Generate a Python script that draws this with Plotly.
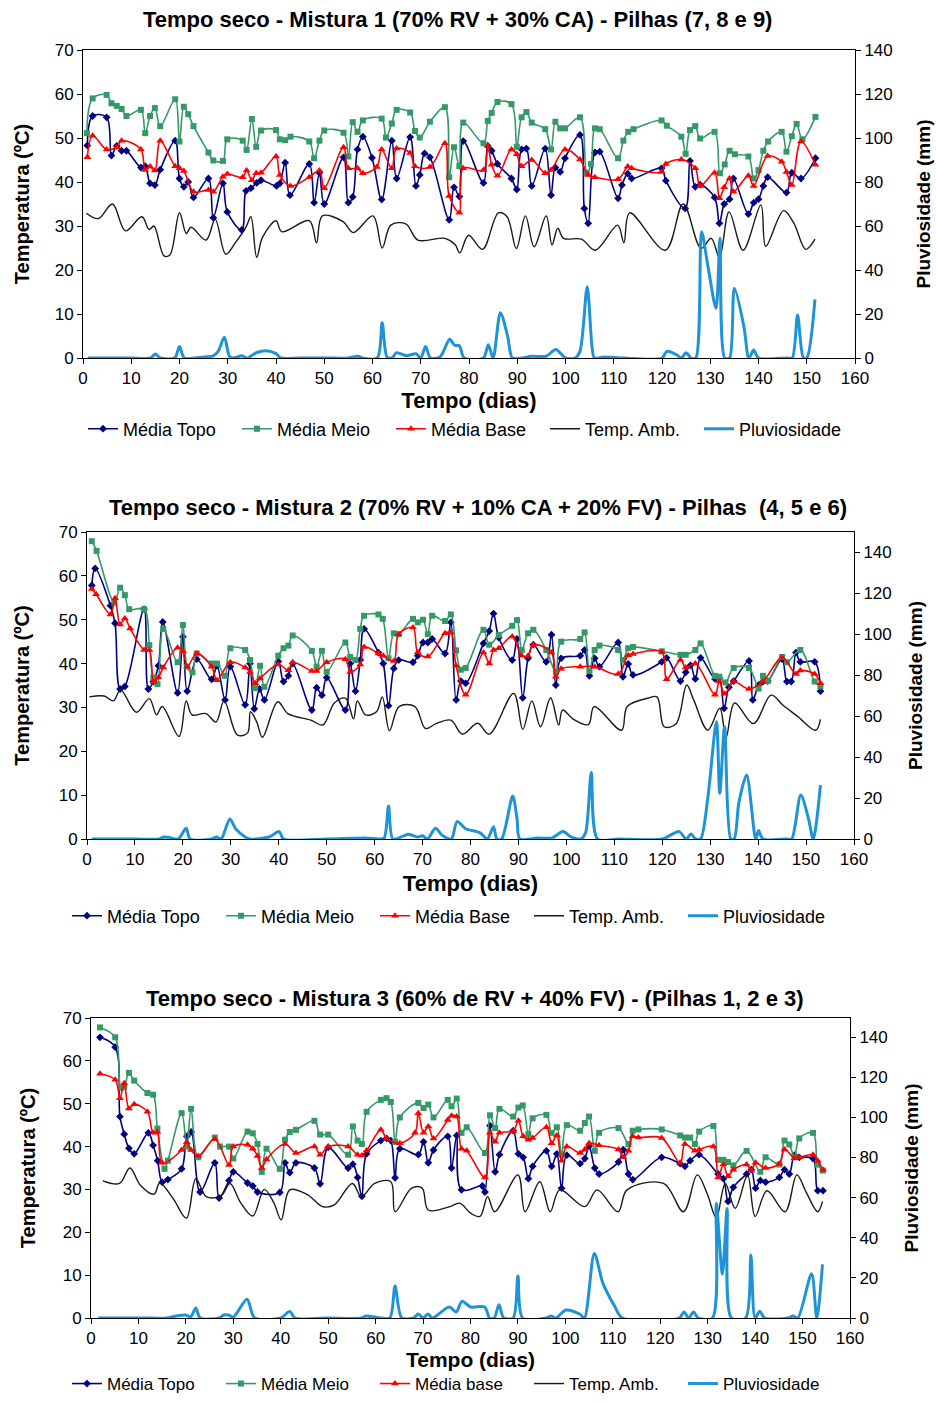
import plotly.graph_objects as go

W, H = 936, 1402

# ======================= DATA (day, value) =======================
# ---------- Panel 1: Mistura 1 ----------
p1_topo = [(0.9,48.3),(2.0,55.0),(4.9,54.7),(5.9,46.0),(7.0,48.2),(8.0,47.1),(9.0,47.1),(12.0,43.3),(12.9,43.6),(13.9,39.7),(14.9,39.3),(16.0,42.8),(19.1,49.4),(20.0,40.8),(20.9,38.9),(21.8,40.0),(22.9,36.5),(26.0,40.8),(27.0,31.9),(29.0,39.7),(29.9,33.2),(32.9,29.1),(33.8,38.0),(34.8,38.6),(36.0,39.8),(36.9,40.4),(40.1,39.1),(40.8,39.7),(41.9,44.4),(42.9,37.0),(46.9,44.1),(47.9,35.3),(49.0,42.1),(50.0,35.0),(54.0,45.6),(55.0,35.3),(55.9,36.6),(56.9,47.4),(58.0,50.3),(59.9,45.5),(61.9,36.0),(64.0,49.4),(65.0,40.8),(67.8,50.2),(69.0,39.1),(69.8,41.6),(70.8,46.5),(71.9,45.6),(75.9,31.4),(76.9,38.8),(78.0,36.7),(78.8,49.3),(83.0,39.8),(83.9,48.2),(84.7,47.1),(85.9,44.1),(88.8,40.8),(89.9,38.3),(90.9,47.4),(91.9,47.6),(93.0,39.1),(95.8,47.6),(97.0,37.0),(97.9,43.3),(98.9,42.3),(99.9,45.4),(103.0,50.7),(103.9,34.0),(104.7,30.6),(106.1,46.7),(107.1,46.9),(110.9,36.3),(111.7,39.3),(112.9,41.9),(113.7,40.8),(119.9,43.1),(120.8,40.3),(124.8,34.0),(125.8,44.8),(126.9,38.9),(127.9,39.4),(130.9,36.5),(131.9,30.6),(132.9,35.0),(134.0,36.1),(134.8,40.8),(137.9,32.7),(139.0,35.3),(140.0,36.1),(141.0,39.1),(141.9,41.1),(145.8,37.6),(146.9,42.1),(148.8,40.8),(151.8,45.4)]
p1_meio = [(0.8,51.1),(2.0,59.0),(4.9,59.8),(5.9,57.9),(7.0,57.3),(8.0,56.6),(9.0,55.0),(12.0,56.4),(12.9,51.1),(13.9,55.0),(14.9,56.8),(16.0,52.7),(19.1,58.8),(20.0,49.2),(20.9,57.1),(21.8,55.4),(22.9,52.7),(26.0,46.7),(27.0,44.9),(29.0,44.8),(29.9,49.7),(33.1,49.4),(33.9,47.3),(35.0,54.3),(35.9,48.0),(36.9,51.7),(40.0,51.8),(40.8,49.7),(41.9,49.5),(43.0,50.3),(46.9,49.2),(47.9,45.4),(49.0,49.4),(50.0,51.7),(54.0,51.2),(55.0,45.8),(55.9,53.6),(56.9,51.4),(58.0,54.0),(61.9,54.4),(62.8,50.1),(64.0,53.3),(65.0,56.4),(67.8,55.8),(68.8,51.6),(69.8,50.1),(71.9,53.7),(75.0,57.0),(75.9,41.1),(76.9,47.9),(78.0,43.6),(78.8,53.5),(83.0,48.8),(83.9,53.9),(84.7,55.7),(85.9,58.2),(88.8,57.7),(89.9,48.0),(90.9,54.7),(91.9,55.9),(93.0,53.5),(95.8,52.0),(97.0,47.4),(97.9,53.7),(98.9,52.2),(99.9,52.2),(103.0,54.7),(104.4,42.1),(105.3,44.1),(106.1,52.2),(107.1,52.0),(110.9,45.4),(112.0,49.4),(113.0,51.4),(114.1,52.0),(119.9,54.0),(121.0,52.8),(124.0,50.3),(124.9,46.4),(125.8,51.8),(126.9,52.7),(127.9,49.9),(130.9,51.4),(132.0,42.0),(133.0,44.0),(134.0,47.1),(135.1,46.3),(137.9,45.8),(139.0,40.8),(140.0,42.7),(141.0,47.1),(142.0,49.2),(144.8,51.4),(145.8,46.9),(146.9,50.4),(147.9,53.2),(149.1,49.7),(151.8,54.8)]
p1_base = [(0.9,45.6),(2.0,50.5),(4.9,47.4),(7.0,47.9),(8.0,49.4),(12.0,47.4),(12.9,42.7),(13.9,43.5),(14.9,42.6),(16.0,49.4),(19.1,43.6),(20.0,43.1),(20.9,42.5),(22.9,37.8),(26.0,38.2),(27.0,37.8),(29.0,41.2),(29.9,41.8),(33.1,41.1),(33.9,42.6),(35.0,40.4),(35.9,42.0),(36.9,42.1),(40.0,45.8),(40.8,41.6),(43.0,39.1),(46.9,41.1),(49.0,42.6),(50.0,38.6),(54.0,47.9),(55.0,43.1),(56.9,43.1),(58.0,42.0),(60.9,43.4),(61.9,47.4),(64.0,43.1),(65.0,47.6),(67.8,46.6),(68.8,43.6),(71.9,43.4),(75.0,48.8),(75.9,36.8),(78.0,33.0),(78.8,43.1),(83.0,42.7),(83.9,48.2),(84.7,43.9),(85.9,41.4),(88.8,47.4),(89.9,46.3),(90.9,43.6),(93.0,45.0),(95.8,42.0),(97.0,42.7),(99.9,47.4),(103.0,45.1),(104.7,41.6),(106.1,41.1),(110.9,40.6),(112.9,43.5),(113.7,43.1),(119.9,42.3),(120.8,44.1),(124.0,45.1),(126.9,43.1),(127.9,39.1),(130.9,42.1),(131.9,36.3),(132.9,38.8),(134.0,40.8),(134.8,37.8),(137.9,41.4),(139.0,39.1),(141.9,45.9),(144.8,44.6),(145.8,42.3),(146.9,39.3),(148.8,49.2),(151.8,43.9)]
p1_amb = [(0.7,32.9),(3.2,31.7),(6.1,35.0),(8.8,28.9),(12.2,32.1),(13.7,29.2),(14.7,30.0),(16.8,23.2),(18.0,23.4),(20.0,33.0),(21.4,28.3),(22.4,29.7),(25.5,26.8),(27.4,31.5),(29.6,23.6),(31.7,26.4),(33.8,29.8),(34.8,32.1),(36.0,22.9),(37.2,27.4),(40.0,31.2),(41.2,28.7),(46.9,31.2),(48.4,26.2),(49.6,32.3),(53.9,31.0),(56.0,28.5),(60.1,32.3),(62.0,25.0),(63.8,30.2),(66.9,30.5),(69.4,26.8),(75.0,27.2),(77.1,25.8),(78.1,23.9),(79.9,27.9),(82.8,24.7),(86.1,33.0),(87.9,32.1),(89.8,24.9),(91.7,32.3),(93.5,25.3),(96.0,32.3),(97.2,25.7),(98.4,29.5),(99.6,27.2),(103.3,27.0),(106.2,24.5),(110.8,30.2),(112.1,26.2),(113.3,33.0),(120.7,24.5),(124.4,35.0),(128.1,24.9),(130.2,27.2),(131.9,22.9),(133.9,33.2),(136.8,24.5),(140.5,34.8),(141.5,25.4),(145.2,33.5),(147.3,30.7),(149.8,24.7),(151.7,27.0)]
p1_pluv = [(1,0),(5,0),(10,0),(14,0),(15,1.8),(16,0),(19,0),(20,5.2),(21,0),(25,0.5),(27,1),(28,3),(29.3,9.4),(30.3,1),(31,0),(33,1),(34,0),(36,2.5),(38,3.3),(40,2),(41,0),(45,0),(50,0),(55,0),(57,0.8),(58,0),(61,0),(62,16),(63,0.5),(64,0),(65,2.4),(67,1),(69,1.9),(70,0),(71,5.2),(72,0),(74,0.5),(76,8.5),(77,5.8),(78,5.6),(79,0),(83,0),(84,6),(85,0),(86.5,20.6),(88,10),(89,0),(91,0),(93,0.8),(96,0.8),(98,3.9),(100,0),(102,0),(103,3),(104.5,32.4),(105.5,5),(106,0),(108,0.5),(112,0),(120,0),(121,3),(123,1.5),(124,0),(125,2.4),(126,0),(127,0),(128.2,57.4),(129.5,42),(131.2,22.6),(132,54.4),(133,0),(134,0),(135,31.7),(137,14),(138,0),(139,3.6),(140,0),(146,0),(147,0),(148.1,19.5),(149.3,0),(150,0),(151.7,26.7)]

# ---------- Panel 2: Mistura 2 ----------
p2_topo = [(1.0,57.8),(1.7,61.7),(4.9,53.2),(5.85,49.2),(6.9,34.2),(7.9,34.8),(11.9,52.4),(12.8,34.2),(13.85,35.9),(14.9,39.5),(15.8,49.5),(18.9,33.3),(20.0,46.1),(20.9,33.7),(22.9,41.0),(26.0,36.4),(27.1,39.5),(28.8,31.7),(29.9,39.3),(33.0,30.6),(34.0,40.0),(34.9,29.7),(36.0,34.2),(37.0,31.7),(39.9,40.5),(41.0,35.9),(42.0,37.2),(42.9,40.0),(46.9,29.4),(47.9,34.5),(49.0,32.8),(50.0,36.8),(53.9,29.4),(54.9,40.0),(56.0,33.7),(57.0,40.8),(57.8,47.9),(60.8,42.5),(61.8,40.0),(62.9,30.4),(64.0,38.9),(65.0,40.8),(68.0,40.3),(69.0,41.8),(70.1,44.8),(71.1,44.8),(72.0,45.6),(74.7,42.3),(75.9,49.4),(77.0,31.7),(78.0,36.0),(79.0,35.5),(82.7,44.6),(83.9,47.4),(84.8,51.4),(85.9,45.9),(88.7,40.8),(89.7,45.6),(90.9,32.2),(92.0,41.2),(93.1,44.3),(95.8,40.4),(96.9,46.6),(97.8,35.1),(98.9,41.2),(102.9,41.8),(103.8,43.1),(104.8,37.2),(105.9,41.2),(106.9,39.3),(110.8,44.8),(111.8,37.0),(112.9,39.9),(113.9,37.4),(119.9,40.4),(120.9,41.3),(123.8,36.0),(124.9,38.0),(125.9,39.6),(126.9,36.5),(128.0,41.3),(131.0,36.5),(131.9,36.7),(132.9,29.8),(133.9,34.6),(134.9,36.0),(138.1,40.6),(138.9,31.7),(140.1,35.1),(141.0,35.9),(142.0,36.0),(145.0,41.0),(146.0,35.9),(146.9,35.9),(147.9,42.5),(148.8,40.4),(151.8,40.4),(153.0,33.7)]
p2_meio = [(1.0,67.9),(2.0,65.7),(5.7,53.9),(6.9,57.3),(7.9,55.6),(8.8,52.4),(11.9,52.4),(13.0,44.2),(13.85,36.8),(14.7,35.3),(15.9,47.9),(18.9,40.3),(20.0,48.8),(20.9,39.3),(22.0,38.0),(22.9,42.3),(26.0,40.0),(27.1,40.0),(28.8,37.2),(29.9,43.5),(33.0,43.1),(34.0,40.8),(35.1,34.4),(36.1,39.5),(37.0,34.7),(39.9,41.8),(41.0,43.5),(42.0,44.1),(42.9,46.4),(46.9,42.9),(47.9,39.3),(49.0,42.9),(50.0,38.1),(53.9,44.8),(54.9,41.5),(56.0,40.8),(57.0,47.9),(57.8,50.9),(60.8,51.2),(61.7,50.2),(62.9,41.2),(64.0,46.9),(65.0,46.7),(68.0,50.2),(69.0,49.4),(70.1,50.0),(71.1,46.7),(72.0,50.9),(74.7,49.7),(75.9,51.2),(77.0,43.0),(78.0,38.6),(79.0,39.0),(82.7,47.7),(83.9,44.3),(85.9,46.5),(88.7,48.6),(89.7,49.9),(90.7,43.1),(92.0,46.9),(93.1,47.7),(95.8,43.1),(97.8,38.1),(98.9,45.0),(102.9,45.6),(103.8,47.1),(104.8,38.3),(105.9,43.1),(106.9,44.1),(110.8,43.1),(111.8,40.8),(112.9,43.5),(113.9,43.8),(119.9,42.8),(123.8,42.0),(124.9,42.0),(126.9,43.1),(128.0,44.6),(131.0,37.2),(131.9,37.0),(133.2,35.7),(134.9,39.0),(138.1,39.0),(140.1,34.3),(141.0,37.2),(142.0,36.0),(145.0,41.5),(146.0,40.3),(148.8,43.1),(151.8,35.9),(153.0,34.8)]
p2_base = [(1.0,57.0),(1.9,55.8),(4.9,51.2),(5.85,54.9),(6.9,48.9),(7.9,50.3),(9.0,48.0),(11.9,43.1),(13.0,43.1),(13.9,35.8),(14.9,36.8),(15.9,39.1),(18.9,43.6),(20.0,42.8),(20.9,39.3),(22.9,42.3),(26.0,39.3),(27.1,36.2),(29.9,40.3),(33.0,39.1),(34.0,38.1),(35.1,35.5),(36.1,36.6),(39.9,39.8),(42.0,38.5),(42.9,40.3),(46.9,38.3),(47.9,38.3),(50.0,40.3),(53.9,41.0),(54.9,38.1),(57.0,39.8),(57.8,43.8),(60.8,42.3),(61.8,41.8),(64.0,40.6),(65.0,46.7),(68.0,48.2),(69.0,42.6),(71.1,41.6),(74.7,46.9),(75.9,47.1),(77.0,39.5),(79.0,32.9),(82.7,42.5),(83.9,40.0),(84.8,43.1),(85.9,43.5),(88.7,46.2),(90.7,41.8),(92.0,41.8),(93.1,44.3),(96.9,42.5),(97.8,37.0),(98.9,38.8),(102.9,39.3),(105.9,39.3),(110.8,37.6),(112.9,41.9),(113.9,42.2),(119.9,42.6),(120.9,36.4),(123.8,40.8),(124.9,39.1),(126.9,40.0),(131.0,32.9),(131.9,35.9),(133.0,33.1),(134.9,35.9),(138.1,34.2),(141.0,35.9),(145.0,41.3),(147.9,37.6),(148.8,38.4),(151.8,37.6),(153.0,35.5)]
p2_amb = [(0.5,32.4),(3.6,32.6),(5.5,31.5),(7.0,34.0),(10.3,28.9),(13.0,32.0),(14.5,28.3),(15.7,30.2),(19.2,23.4),(20.7,31.5),(21.9,28.3),(24.8,28.6),(26.9,26.7),(28.6,31.5),(31.4,23.7),(33.5,24.2),(34.1,29.0),(35.4,26.7),(36.6,23.2),(39.8,31.3),(41.9,28.6),(46.7,27.1),(49.2,26.0),(51.6,31.0),(53.9,32.1),(55.6,27.4),(56.4,31.5),(58.1,28.3),(60.4,29.0),(61.6,32.4),(63.1,24.7),(65.1,30.2),(68.4,30.2),(70.6,25.2),(72.8,26.3),(75.9,27.1),(78.3,23.9),(81.5,26.4),(83.9,23.9),(89.0,33.2),(90.9,25.0),(92.8,31.5),(94.6,25.6),(96.7,32.2),(98.4,26.0),(99.2,29.4),(101.5,27.3),(104.6,26.1),(105.8,30.2),(111.5,24.8),(112.7,30.2),(117.0,32.1),(118.9,32.4),(120.4,25.6),(122.9,26.3),(125.1,35.1),(126.6,31.6),(129.5,24.8),(132.0,29.8),(133.3,23.1),(135.1,31.0),(139.0,26.3),(142.7,32.8),(145.2,30.5),(148.3,27.9),(152.0,24.8),(153.0,27.3)]
p2_pluv = [(1,0),(10,0),(15,0),(16,1),(17,0.8),(19,0),(20.7,5.2),(21.5,0),(26,0),(27,1),(28,0),(29.8,9.8),(31,5),(33,1),(34,0),(38,1),(40.1,3.6),(41,0),(50,0),(58,0.5),(61,0),(62,0.5),(62.9,16.1),(63.8,0),(66,1.5),(67,2.3),(69,1),(70,1.6),(71,0),(72.7,5.2),(74,2),(76,0),(77.2,8.5),(79,5),(82,3),(83.5,0),(84.8,6.0),(85.5,0),(86.5,0),(88.8,21),(89.7,10),(90.3,0),(94,0.5),(97,0.5),(99.3,3.6),(101,1),(103,0),(104,3),(105.2,32.4),(106.5,0),(111,0),(120,0),(123.5,3.6),(125,0),(126,2.4),(127,0),(128,0),(129.5,20),(131.3,57.2),(132,22.3),(133,54.8),(134.3,0),(135,0),(136,18),(137.6,31.2),(139.5,0),(140.1,4.1),(141,0),(146,0),(147,0),(148.9,21.5),(150.5,10),(151.5,0),(153,26.3)]

# ---------- Panel 3: Mistura 3 ----------
p3_topo = [(1.9,65.5),(5.1,63.2),(6.1,47.0),(7.0,42.9),(8.0,39.6),(9.1,38.3),(12.1,43.2),(13.1,40.3),(14.05,36.7),(15.0,31.7),(16.2,32.3),(19.1,34.8),(20.2,42.4),(21.1,43.4),(23.0,29.4),(26.1,36.2),(27.0,28.0),(29.1,32.1),(30.0,34.1),(33.0,31.5),(34.1,30.8),(35.1,29.4),(39.8,29.3),(40.9,36.2),(41.9,33.9),(43.2,36.2),(47.1,35.0),(48.3,31.3),(50.0,39.8),(54.2,35.0),(55.2,35.9),(56.2,32.8),(57.1,28.4),(58.1,38.3),(61.1,41.4),(62.3,41.9),(63.2,41.4),(64.1,32.7),(65.1,39.5),(69.0,38.1),(70.1,41.1),(71.1,36.2),(72.2,39.2),(75.2,42.4),(76.0,35.0),(77.1,42.6),(78.1,29.9),(82.5,30.8),(83.05,29.4),(84.1,44.9),(85.2,34.1),(86.1,38.1),(89.0,43.7),(90.1,38.3),(91.1,37.5),(92.2,32.5),(93.1,35.4),(96.0,39.0),(97.1,35.4),(98.2,38.3),(99.2,30.3),(100.3,38.0),(103.1,36.0),(104.1,37.2),(105.0,40.1),(106.2,35.0),(107.1,33.6),(111.2,36.4),(112.2,39.3),(113.3,33.6),(114.2,32.3),(120.3,37.5),(124.2,36.0),(125.2,35.4),(126.3,36.7),(128.2,38.1),(132.2,33.6),(133.3,32.5),(134.3,27.2),(135.4,30.5),(138.2,33.6),(139.2,34.6),(140.1,30.3),(141.1,32.1),(142.2,31.7),(145.1,32.8),(146.2,34.6),(147.2,33.6),(148.3,38.0),(149.3,37.5),(152.2,37.2),(153.2,29.7),(154.3,29.7)]
p3_meio = [(1.9,67.8),(5.1,65.5),(6.3,53.7),(7.0,54.0),(8.0,57.2),(9.1,55.4),(11.9,52.5),(13.1,52.1),(14.0,44.2),(15.5,34.8),(16.2,36.7),(19.1,47.8),(20.2,40.0),(21.1,48.8),(22.6,37.5),(26.1,42.1),(27.2,40.0),(29.1,40.0),(30.0,37.2),(33.0,43.5),(34.1,43.1),(35.1,40.6),(36.0,34.1),(37.0,39.5),(39.8,34.8),(40.9,41.6),(41.9,43.4),(43.2,43.9),(47.1,46.0),(48.3,42.8),(50.0,42.8),(54.2,38.1),(55.2,44.7),(56.2,41.4),(57.1,40.6),(58.1,48.1),(61.1,50.9),(62.3,51.3),(63.2,50.4),(64.1,41.1),(65.1,46.8),(69.0,50.2),(70.1,49.0),(71.1,49.8),(72.2,46.8),(75.2,50.9),(76.0,49.4),(77.1,51.2),(78.1,43.2),(79.2,44.5),(83.05,38.5),(84.1,47.3),(85.2,44.3),(86.1,48.8),(89.0,47.0),(90.1,49.1),(91.0,49.6),(92.2,42.9),(93.1,46.6),(96.0,47.4),(97.1,43.2),(98.2,44.5),(99.2,38.1),(100.3,45.0),(103.1,43.7),(104.1,45.5),(105.0,47.0),(106.2,39.0),(107.1,43.2),(111.2,44.3),(113.3,40.6),(114.2,43.7),(115.4,44.0),(120.3,44.0),(124.2,42.6),(125.2,42.1),(126.3,42.1),(127.3,40.6),(128.2,43.5),(131.2,44.8),(132.2,36.9),(133.3,36.9),(134.3,36.4),(135.4,35.6),(138.2,39.0),(141.1,34.1),(142.2,37.5),(145.1,35.8),(146.2,41.4),(147.2,40.5),(148.3,37.5),(149.3,41.9),(152.2,43.2),(153.2,35.8),(154.3,34.4)]
p3_base = [(1.9,57.0),(5.1,55.6),(6.1,51.3),(7.0,54.8),(8.0,48.9),(9.1,49.9),(11.9,48.1),(13.1,43.2),(14.0,43.4),(15.0,36.2),(19.1,39.2),(20.2,41.0),(21.1,39.2),(22.6,37.8),(26.1,41.7),(29.1,35.7),(30.0,40.0),(33.0,40.4),(34.1,39.5),(35.1,37.8),(36.0,35.0),(37.0,37.0),(40.9,40.6),(43.2,38.5),(47.1,40.0),(48.3,38.1),(50.0,40.0),(54.2,40.0),(56.2,38.1),(57.1,37.9),(58.1,39.1),(61.1,43.9),(62.3,41.9),(65.1,40.8),(68.3,43.2),(69.0,47.8),(70.1,43.2),(71.1,44.7),(72.2,41.9),(75.2,46.2),(76.0,47.2),(77.1,47.0),(78.1,39.5),(79.2,39.0),(83.05,32.8),(84.1,43.2),(85.2,41.1),(86.1,43.2),(89.0,43.6),(90.1,46.0),(91.1,42.4),(92.2,41.6),(93.1,42.0),(96.0,44.5),(97.1,40.8),(98.2,42.6),(99.2,36.7),(100.3,40.0),(103.1,38.5),(104.1,39.3),(105.0,40.8),(107.1,40.3),(111.2,39.3),(112.2,37.5),(113.3,39.0),(114.2,42.4),(115.4,42.1),(120.3,42.0),(124.2,36.2),(125.2,40.6),(127.3,39.0),(128.2,39.3),(131.2,40.0),(132.2,32.8),(133.3,35.8),(134.3,33.1),(135.4,34.6),(138.2,35.8),(139.2,34.4),(140.1,36.2),(142.2,35.0),(145.1,36.0),(146.2,39.3),(148.3,37.3),(149.3,37.5),(152.2,38.1),(153.2,36.7),(154.3,34.6)]
p3_amb = [(2.5,32.0),(6.0,31.4),(8.2,35.0),(10.4,31.0),(13.3,28.9),(14.5,31.5),(17.3,27.9),(20.1,23.3),(22.1,32.5),(24.3,28.3),(27.4,28.5),(29.3,31.4),(31.5,27.0),(34.1,23.8),(36.5,30.0),(38.5,27.0),(40.1,22.9),(41.9,29.9),(45.6,28.8),(48.8,26.0),(51.3,26.4),(55.1,31.4),(57.0,28.3),(59.8,31.4),(63.2,31.8),(64.1,24.8),(67.6,30.3),(69.8,30.3),(71.1,25.2),(75.7,26.0),(77.7,26.8),(80.1,24.4),(82.0,23.7),(83.6,28.3),(85.1,24.8),(90.0,33.4),(91.5,24.8),(94.6,31.8),(96.8,24.8),(98.8,29.9),(104.1,26.0),(106.7,29.9),(111.1,24.8),(113.0,29.9),(120.7,31.4),(124.9,24.8),(127.8,33.4),(129.9,29.0),(131.8,23.4),(133.7,31.4),(135.8,25.6),(138.4,33.3),(140.0,23.7),(142.5,29.7),(146.3,24.8),(148.8,33.4),(150.7,29.5),(153.2,24.8),(154.2,27.2)]
p3_pluv = [(1.5,0),(10,0),(16,0),(18,1),(20,1.5),(21,0.5),(22.1,5.0),(23,0),(27,0),(28,1.5),(29,1.5),(30,0.5),(32.9,9.3),(34.5,0),(40,0),(41.9,3.3),(43,0),(50,0),(57,0),(58,1),(61,0),(63,0),(64.1,15.9),(65.5,0),(68,0),(69,2),(70,0),(71,2),(72,0),(75.5,5.5),(77,3),(78.2,8.3),(80,5.5),(83,5.5),(84,0),(85,0),(86,6.6),(87,0),(89,0),(90,20.9),(91,0),(96,0),(97,1),(98,0),(100.1,4.0),(103,2),(104,0),(106.1,32.2),(107.9,17.4),(110.4,5.8),(112,0),(124,0),(125,3),(126,0),(127,3),(128,0),(131,0),(131.8,57.1),(133.1,21.9),(134.1,54.6),(135,0),(138,0),(139.1,31.4),(140,0),(141,3.4),(142,0),(147,0),(148,1),(149,0),(151.9,22.1),(153,0),(154.2,26.7)]

titles = [
    "Tempo seco - Mistura 1 (70% RV + 30% CA) - Pilhas (7, 8 e 9)",
    "Tempo seco - Mistura 2 (70% RV + 10% CA + 20% FV) - Pilhas  (4, 5 e 6)",
    "Tempo seco - Mistura 3 (60% de RV + 40% FV) - (Pilhas 1, 2 e 3)",
]
base_names = ["Média Base", "Média Base", "Média base"]
x_ticks = list(range(0, 161, 10))
left_ticks = list(range(0, 71, 10))
right_ticks = list(range(0, 141, 20))

# ======================= STYLE / LAYOUT =======================
FONT = "Liberation Sans, Arial, sans-serif"
C_TOPO, C_MEIO, C_BASE, C_AMB, C_PLUV = "#000080", "#339966", "#FF0000", "#1a1a1a", "#1E93D6"

# panel pixel boxes: (x_left, x_right, y_top, y_bottom, right_axis_max)
panels = [
    (83, 855, 50, 358, 140.0),
    (87, 854, 532, 839, 149.8),
    (91, 850, 1018, 1318, 149.5),
]
title_pos = [(457, 20), (478, 507), (475, 998)]
# legend: left edge x, y (pixels), y anchor, font size
legend_pos = [(83, 429, "middle", 18), (67, 916, "middle", 18), (67, 1402, "bottom", 17)]
xtitle_standoff = [0, 7, 4]
xtitle_size = [22, 22, 21]
ytitle_standoff = [19, 23, 21]
y2title_standoff = [24, 17, 17]

data = [
    (p1_topo, p1_meio, p1_base, p1_amb, p1_pluv),
    (p2_topo, p2_meio, p2_base, p2_amb, p2_pluv),
    (p3_topo, p3_meio, p3_base, p3_amb, p3_pluv),
]

def xs(pairs):
    return [p[0] for p in pairs]

def ys(pairs):
    return [p[1] for p in pairs]

fig = go.Figure()
layout = dict(
    width=W, height=H, margin=dict(l=0, r=0, t=0, b=0),
    paper_bgcolor="white", plot_bgcolor="white",
    font=dict(family=FONT, color="black", size=17),
    showlegend=True, template="none", annotations=[],
)

for i, ((xl, xr, yt, yb, rmax), (topo, meio, base, amb, pluv)) in enumerate(zip(panels, data)):
    n = i + 1
    xa = "x" if n == 1 else f"x{n}"
    ya = f"y{2*n-1}" if n > 1 else "y"
    ya2 = f"y{2*n}"
    leg = "legend" if n == 1 else f"legend{n}"

    common = dict(mode="lines+markers", line_shape="spline", xaxis=xa, yaxis=ya, legend=leg)
    fig.add_trace(go.Scatter(x=xs(topo), y=ys(topo), name="Média Topo",
                             line=dict(color=C_TOPO, width=1.6, smoothing=1),
                             marker=dict(symbol="diamond", size=6, color=C_TOPO), **common))
    fig.add_trace(go.Scatter(x=xs(meio), y=ys(meio), name="Média Meio",
                             line=dict(color=C_MEIO, width=1.6, smoothing=1),
                             marker=dict(symbol="square", size=6, color=C_MEIO), **common))
    fig.add_trace(go.Scatter(x=xs(base), y=ys(base), name=base_names[i],
                             line=dict(color=C_BASE, width=1.6, smoothing=1),
                             marker=dict(symbol="triangle-up", size=7, color=C_BASE), **common))
    fig.add_trace(go.Scatter(x=xs(amb), y=ys(amb), name="Temp. Amb.", mode="lines",
                             line=dict(color=C_AMB, width=1.4, shape="spline", smoothing=1),
                             xaxis=xa, yaxis=ya, legend=leg))
    fig.add_trace(go.Scatter(x=xs(pluv), y=ys(pluv), name="Pluviosidade", mode="lines",
                             line=dict(color=C_PLUV, width=3, shape="spline", smoothing=0.8),
                             xaxis=xa, yaxis=ya2, legend=leg))

    xdom = [xl / W, xr / W]
    ydom = [1 - yb / H, 1 - yt / H]
    xkey = "xaxis" if n == 1 else f"xaxis{n}"
    ykey = "yaxis" if n == 1 else f"yaxis{2*n-1}"
    y2key = f"yaxis{2*n}"

    layout[xkey] = dict(
        domain=xdom, anchor=ya, range=[0, 160], tickvals=x_ticks,
        showline=True, linecolor="black", linewidth=1, mirror=True,
        ticks="outside", ticklen=5, tickcolor="black", showgrid=False, zeroline=False,
        tickfont=dict(size=17), automargin=False,
        title=dict(text="<b>Tempo (dias)</b>", font=dict(size=xtitle_size[i]), standoff=xtitle_standoff[i]),
    )
    layout[ykey] = dict(
        domain=ydom, anchor=xa, range=[0, 70], tickvals=left_ticks,
        showline=True, linecolor="black", linewidth=1,
        ticks="outside", ticklen=5, tickcolor="black", showgrid=False,
        zeroline=True, zerolinecolor="#404040", zerolinewidth=2,
        tickfont=dict(size=17), automargin=False,
        title=dict(text="<b>Temperatura (ºC)</b>", font=dict(size=20), standoff=ytitle_standoff[i]),
    )
    layout[y2key] = dict(
        overlaying=ya, anchor=xa, side="right", range=[0, rmax], tickvals=right_ticks,
        showline=True, linecolor="black", linewidth=1,
        ticks="outside", ticklen=5, tickcolor="black", showgrid=False, zeroline=False,
        tickfont=dict(size=17), automargin=False,
        title=dict(text="<b>Pluviosidade (mm)</b>", font=dict(size=19), standoff=y2title_standoff[i]),
    )
    lx, ly, lanchor, lfont = legend_pos[i]
    layout[leg] = dict(
        orientation="h", x=lx / W, y=1 - ly / H, xanchor="left", yanchor=lanchor,
        font=dict(size=lfont), bgcolor="rgba(0,0,0,0)", itemwidth=30, tracegroupgap=0,
        entrywidth=109, entrywidthmode="pixels",
    )
    tx, ty = title_pos[i]
    layout["annotations"].append(dict(
        text=f"<b>{titles[i]}</b>", x=tx / W, y=1 - ty / H, xref="paper", yref="paper",
        xanchor="center", yanchor="middle", showarrow=False, font=dict(size=22),
    ))

fig.update_layout(**layout)
fig.write_html("out.html")
